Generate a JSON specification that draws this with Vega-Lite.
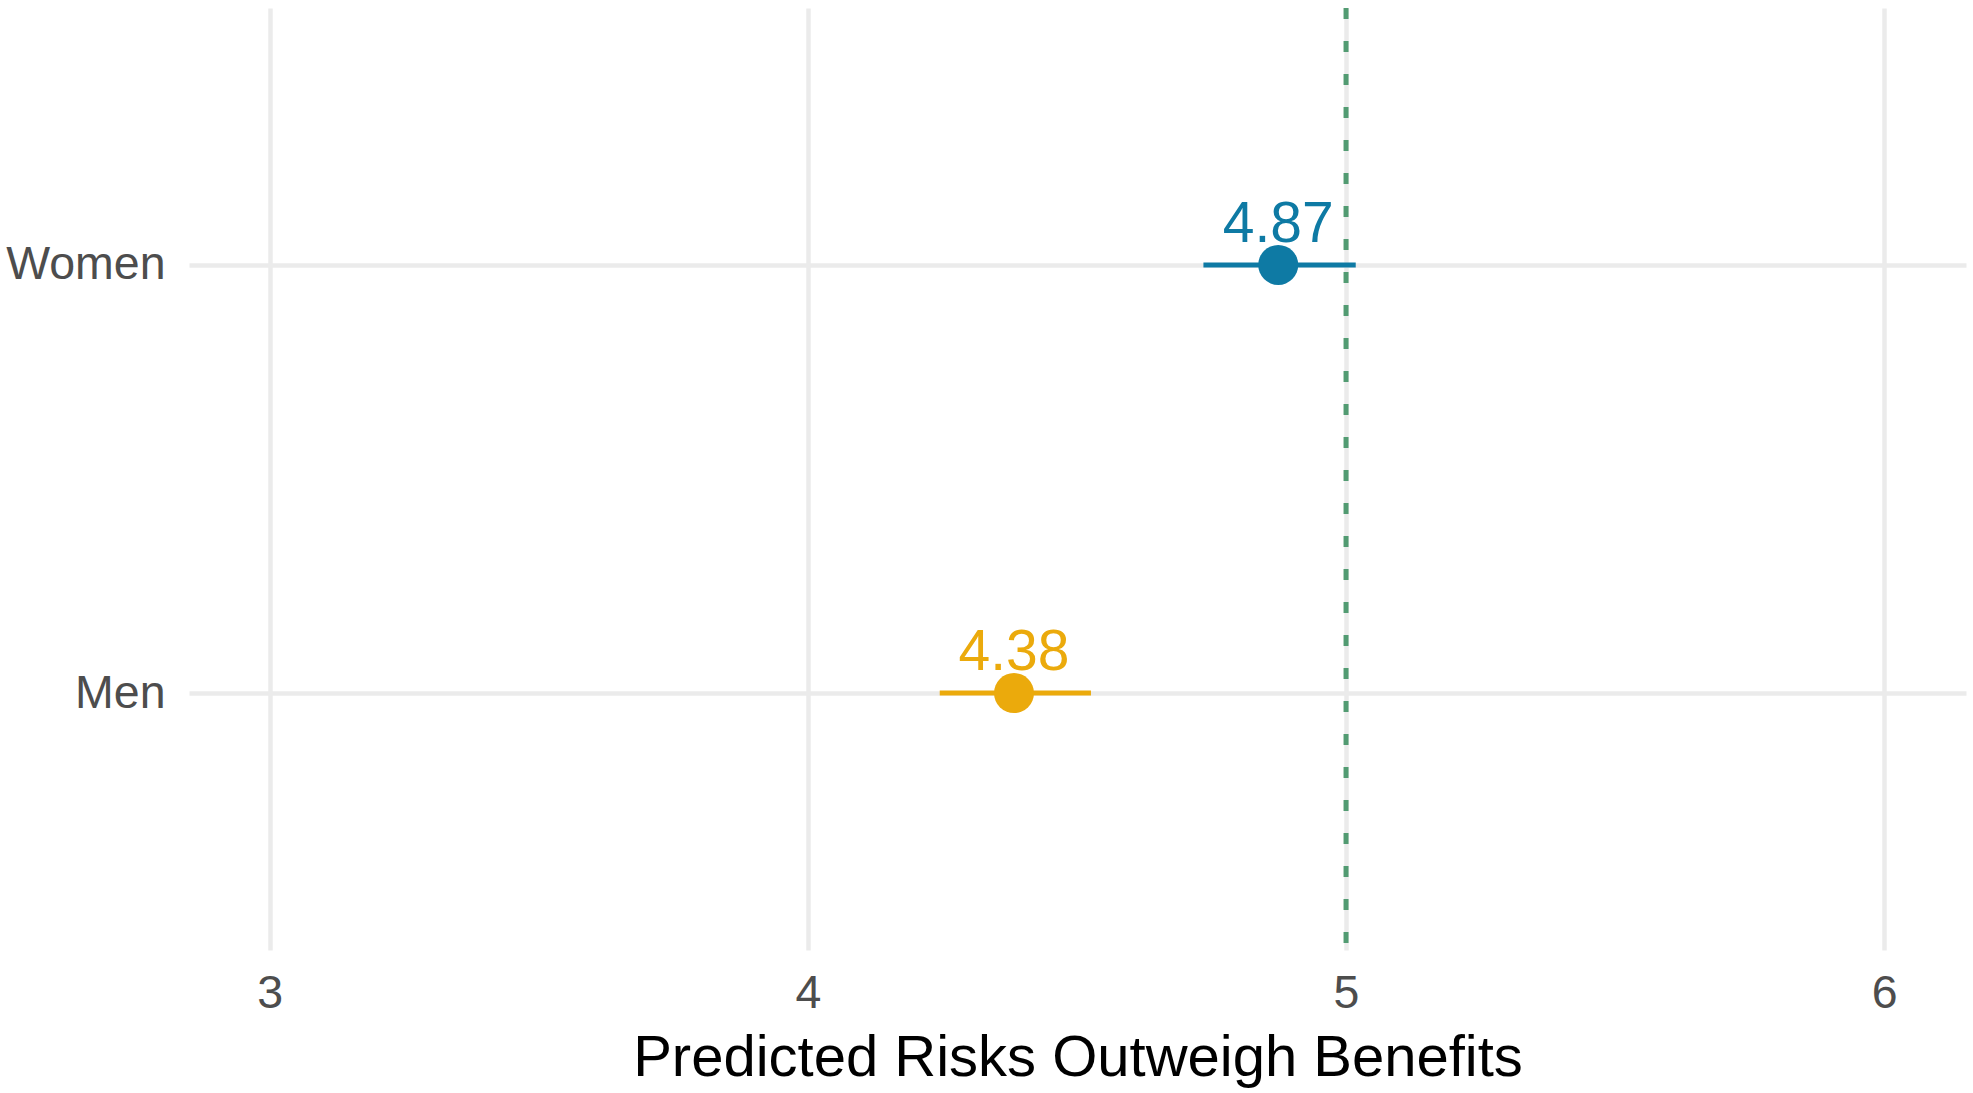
{
  "$schema": "https://vega.github.io/schema/vega-lite/v6.json",
  "autosize": "none",
  "width": 1777,
  "height": 942,
  "padding": {"left": 189, "top": 8, "right": 7, "bottom": 143},
  "background": "white",
  "config": {
    "view": {"stroke": null},
    "font": "Liberation Sans",
    "axis": {
      "domain": false,
      "ticks": false,
      "gridColor": "#ebebeb",
      "gridWidth": 4.5,
      "labelFont": "Liberation Sans",
      "labelFontSize": 46.5,
      "labelColor": "#4d4d4d",
      "titleFont": "Liberation Sans",
      "titleFontWeight": "normal",
      "titleColor": "#000000"
    }
  },
  "data": {
    "values": [
      {"group": "Women", "est": 4.874, "lo": 4.735, "hi": 5.018},
      {"group": "Men", "est": 4.383, "lo": 4.245, "hi": 4.526}
    ]
  },
  "encoding": {
    "y": {
      "field": "group",
      "type": "nominal",
      "sort": ["Women", "Men"],
      "scale": {"type": "point", "padding": 0.6},
      "axis": {"title": null, "labelPadding": 24, "grid": true}
    }
  },
  "layer": [
    {
      "data": {"values": [{"ref": 5}]},
      "mark": {"type": "rule", "color": "#529B72", "strokeWidth": 5, "strokeDash": [11, 22]},
      "encoding": {
        "x": {"field": "ref", "type": "quantitative"},
        "y": null
      }
    },
    {
      "mark": {"type": "rule", "strokeWidth": 5},
      "encoding": {
        "x": {
          "field": "lo",
          "type": "quantitative",
          "scale": {"domain": [2.85, 6.152], "nice": false, "zero": false},
          "axis": {
            "values": [3, 4, 5, 6],
            "format": "d",
            "title": "Predicted Risks Outweigh Benefits",
            "titleFontSize": 58,
            "labelPadding": 20,
            "titlePadding": 13,
            "grid": true
          }
        },
        "x2": {"field": "hi"},
        "color": {
          "field": "group",
          "type": "nominal",
          "scale": {"domain": ["Women", "Men"], "range": ["#0E7AA4", "#EBAA0C"]},
          "legend": null
        }
      }
    },
    {
      "mark": {"type": "circle", "size": 1600, "opacity": 1},
      "encoding": {
        "x": {"field": "est", "type": "quantitative"},
        "color": {"field": "group", "type": "nominal", "legend": null}
      }
    },
    {
      "mark": {"type": "text", "fontSize": 57, "baseline": "alphabetic", "dy": -23, "align": "center"},
      "encoding": {
        "x": {"field": "est", "type": "quantitative"},
        "text": {"field": "est", "type": "quantitative", "format": ".2f"},
        "color": {"field": "group", "type": "nominal", "legend": null}
      }
    }
  ]
}
